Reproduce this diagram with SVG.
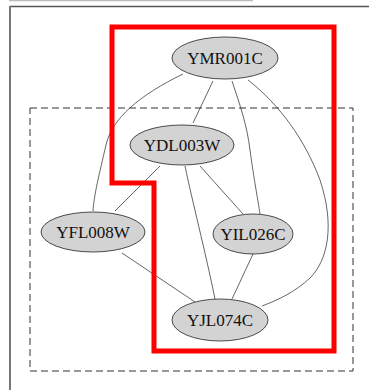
<svg xmlns="http://www.w3.org/2000/svg" width="369" height="390" viewBox="0 0 369 390">
<style>
.node ellipse{fill:#d3d3d3;stroke:#222;stroke-width:0.8}
.node text{font-family:"Liberation Serif",serif;font-size:17px;fill:#111;text-anchor:middle}
.edges path{fill:none;stroke:#333;stroke-width:0.75}
</style>
<rect width="369" height="390" fill="#fff"/>
<g id="frame">
<line x1="9" y1="0.5" x2="253" y2="0.5" stroke="#bbb" stroke-width="1.5"/>
<line x1="10" y1="6.5" x2="369" y2="6.5" stroke="#555" stroke-width="1.5"/>
<line x1="10" y1="6" x2="10" y2="390" stroke="#777" stroke-width="2"/>
</g>
<rect id="cluster" x="30" y="108" width="323" height="263" fill="none" stroke="#333" stroke-width="1" stroke-dasharray="7,4"/>
<g class="edges" id="edges">
<path d="M183,74 C140,95 112,118 106,145 C99,175 94,195 93,211"/>
<path d="M213,81 L193,123"/>
<path d="M232,81 C240,105 247,125 250,150 C254,180 258,200 260,214"/>
<path d="M248,80 C280,105 305,140 320,180 C335,225 328,260 310,278 C295,292 278,300 262,306"/>
<path d="M160,166 L115,211"/>
<path d="M185,166 C192,200 205,250 215,299"/>
<path d="M200,166 L243,214"/>
<path d="M122,253 L195,302"/>
<path d="M253,254 L232,299"/>
</g>
<polygon id="highlight" points="112,27 334,27 334,351 154,351 154,183 112,183" fill="none" stroke="#f00" stroke-width="5" stroke-linejoin="miter"/>
<g class="node" id="YMR001C"><ellipse cx="225" cy="58" rx="53" ry="21"/><text x="225" y="64">YMR001C</text></g>
<g class="node" id="YDL003W"><ellipse cx="182" cy="145" rx="52" ry="20"/><text x="182" y="151">YDL003W</text></g>
<g class="node" id="YFL008W"><ellipse cx="93" cy="232" rx="52" ry="20"/><text x="93" y="238">YFL008W</text></g>
<g class="node" id="YIL026C"><ellipse cx="253" cy="234" rx="40" ry="20"/><text x="253" y="240">YIL026C</text></g>
<g class="node" id="YJL074C"><ellipse cx="220" cy="320" rx="48" ry="21"/><text x="220" y="326">YJL074C</text></g>
</svg>
